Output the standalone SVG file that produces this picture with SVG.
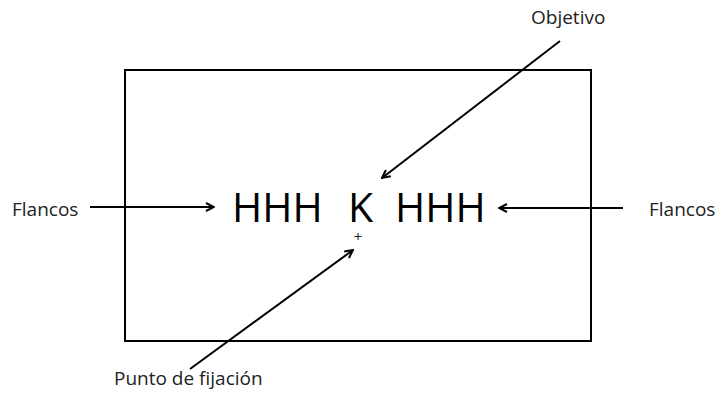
<svg xmlns="http://www.w3.org/2000/svg" width="718" height="394" viewBox="0 0 718 394">
<style>
.lbl{font-family:"Open Sans","Noto Sans",sans-serif;font-size:19px;fill:#222}
.big{font-family:"Open Sans","Noto Sans",sans-serif;font-size:41px;fill:#000}
.ln{stroke:#000;stroke-width:2;fill:none}
</style>
<defs>
<marker id="ah" viewBox="0 0 10 10" refX="9" refY="5" markerWidth="5" markerHeight="5" orient="auto" markerUnits="strokeWidth">
<path d="M1,1 L9,5 L1,9" fill="none" stroke="#000" stroke-width="2"/>
</marker>
</defs>
<rect id="frame" x="125" y="70" width="466" height="271" fill="#fff" stroke="#000" stroke-width="2"/>
<g id="stimulus">
<text class="big" x="232" y="222">HHH</text>
<text class="big" x="348" y="222">K</text>
<text class="big" x="395" y="222">HHH</text>
</g>
<g id="fixation"><text class="lbl" x="358" y="242" text-anchor="middle" style="font-size:15px">+</text></g>
<g id="objetivo"><text class="lbl" x="531" y="24">Objetivo</text></g>
<g id="flancos-left"><text class="lbl" x="12" y="216">Flancos</text></g>
<g id="flancos-right"><text class="lbl" x="649" y="216">Flancos</text></g>
<g id="punto"><text class="lbl" x="114" y="385">Punto de fijación</text></g>
<g id="connectors">
<line class="ln" x1="90" y1="207" x2="214" y2="207" marker-end="url(#ah)"/>
<line class="ln" x1="623" y1="208" x2="499" y2="208" marker-end="url(#ah)"/>
<line class="ln" x1="560" y1="41" x2="382" y2="178" marker-end="url(#ah)"/>
<line class="ln" x1="190" y1="369" x2="353" y2="250" marker-end="url(#ah)"/>
</g>
</svg>
